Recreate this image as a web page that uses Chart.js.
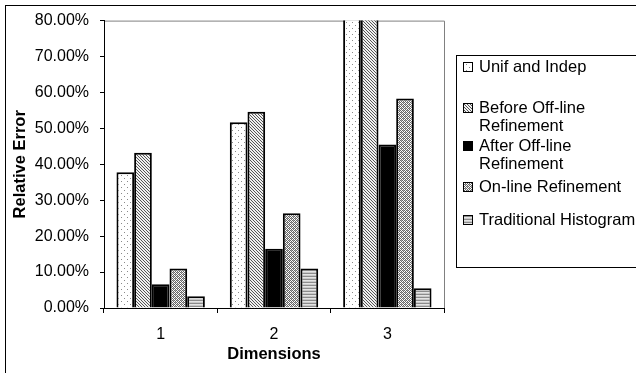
<!DOCTYPE html>
<html>
<head>
<meta charset="utf-8">
<script src="https://cdn.jsdelivr.net/npm/chart.js@4"></script>
<style>
  html, body { margin: 0; padding: 0; background: #fff; }
  #wrap { width: 636px; height: 373px; position: relative; }
</style>
</head>
<body>
<div id="wrap"><canvas id="chart" width="636" height="373"></canvas></div>
<script>
// data (percent)
const dimensions = ['1', '2', '3'];
const unifIndep   = [37.8, 51.7, 85.0];
const beforeOff   = [43.2, 54.6, 88.0];
const afterOff    = [6.6, 16.5, 45.5];
const onlineRef   = [11.0, 26.4, 58.3];
const tradHist    = [3.3, 11.0, 5.5];
const seriesNames = [['Unif and Indep'], ['Before Off-line', 'Refinement'], ['After Off-line', 'Refinement'], ['On-line Refinement'], ['Traditional Histogram']];
const yMax = 80, yStep = 10;

function tile(w, h, draw){
  const c = document.createElement('canvas'); c.width = w; c.height = h;
  const g = c.getContext('2d'); draw(g);
  return g.createPattern(c, 'repeat');
}
const px = (g, x, y, col) => { g.fillStyle = col; g.fillRect(x, y, 1, 1); };

const patDots = tile(6, 6, g => { g.fillStyle = '#fff'; g.fillRect(0,0,6,6); px(g,1,1,'#8a8a8a'); px(g,4,4,'#8a8a8a'); });
const patDiag = tile(3, 3, g => { g.fillStyle = '#f0f0f0'; g.fillRect(0,0,3,3); for(let i=0;i<3;i++) px(g,i,i,'#555'); });
const patCheck = tile(4, 4, g => { g.fillStyle = '#fff'; g.fillRect(0,0,4,4);
  [[0,0],[2,0],[1,1],[3,1],[0,2],[2,2],[1,3],[3,3]].forEach(([x,y]) => px(g,x,y,'#666'));
  px(g,1,0,'#aaa'); px(g,3,2,'#aaa'); });
const patHoriz = tile(4, 3, g => { g.fillStyle = '#e4e4e4'; g.fillRect(0,0,4,3); g.fillStyle = '#8c8c8c'; g.fillRect(0,0,4,1); g.fillStyle='#c8c8c8'; g.fillRect(0,2,4,1); });

const fills = [patDots, patDiag, '#000', patCheck, patHoriz];
const values = [unifIndep, beforeOff, afterOff, onlineRef, tradHist];

const FONT = 'Liberation Sans, Arial, sans-serif';

const frames = {
  id: 'frames',
  beforeDraw(chart){
    const {ctx, chartArea: a} = chart;
    ctx.save();
    ctx.fillStyle = '#fff'; ctx.fillRect(0, 0, chart.width, chart.height);
    ctx.strokeStyle = '#000'; ctx.lineWidth = 1;
    ctx.strokeRect(5.5, 5.5, 700, 400);
    ctx.strokeStyle = '#808080';
    ctx.beginPath();
    ctx.moveTo(a.left, a.top + 0.5); ctx.lineTo(a.right + 0.5, a.top + 0.5); ctx.lineTo(a.right + 0.5, a.bottom);
    ctx.stroke();
    ctx.restore();
  },
  afterDraw(chart){
    const ctx = chart.ctx;
    ctx.save();
    ctx.strokeStyle = '#000'; ctx.lineWidth = 1;
    ctx.strokeRect(456.5, 55.5, 250, 212);
    const rowY = [67, 108, 146, 187, 220];
    ctx.font = '16.5px ' + FONT; ctx.textBaseline = 'middle'; ctx.fillStyle = '#000';
    seriesNames.forEach((lines, i) => {
      const y = rowY[i];
      ctx.fillStyle = fills[i]; ctx.fillRect(463, y - 5, 10, 10);
      ctx.strokeStyle = '#000'; ctx.strokeRect(463.5, y - 4.5, 9, 9);
      ctx.fillStyle = '#000';
      lines.forEach((t, k) => ctx.fillText(t, 479, y + k * 18.5));
    });
    ctx.restore();
  }
};

new Chart(document.getElementById('chart'), {
  type: 'bar',
  data: {
    labels: dimensions,
    datasets: values.map((v, i) => ({
      label: seriesNames[i].join(' '),
      data: v,
      backgroundColor: fills[i],
      borderColor: '#000',
      borderWidth: 2,
      borderSkipped: 'bottom',
      categoryPercentage: 0.78,
      barPercentage: 1
    }))
  },
  options: {
    responsive: false,
    animation: false,
    devicePixelRatio: 1,
    layout: { padding: { left: 5, top: 19, right: 192, bottom: 0 } },
    plugins: { legend: { display: false }, tooltip: { enabled: false } },
    scales: {
      x: {
        offset: true,
        grid: { offset: true, drawOnChartArea: false, drawTicks: true, tickLength: 5, color: '#000' },
        border: { color: '#000', width: 1 },
        ticks: { color: '#000', font: { family: FONT, size: 16 }, padding: 12, maxRotation: 0 },
        title: { display: true, text: 'Dimensions', color: '#000', font: { family: FONT, size: 16.5, weight: 'bold' }, padding: { top: 0, bottom: 9 } },
        afterFit(s){ s.height = 65; }
      },
      y: {
        min: 0, max: yMax,
        grid: { drawOnChartArea: false, drawTicks: true, tickLength: 4, color: '#000' },
        border: { color: '#000', width: 1 },
        ticks: { stepSize: yStep, autoSkip: false, color: '#000', font: { family: FONT, size: 16 }, padding: 11, callback: v => v.toFixed(2) + '%' },
        title: { display: true, text: 'Relative Error', color: '#000', font: { family: FONT, size: 16.5, weight: 'bold' }, padding: { top: 6, bottom: 0 } },
        afterFit(s){ s.width = 99; }
      }
    }
  },
  plugins: [frames]
});
</script>
</body>
</html>
